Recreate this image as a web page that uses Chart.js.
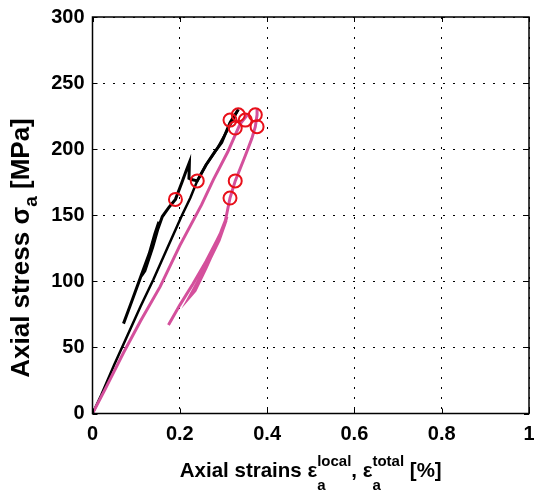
<!DOCTYPE html>
<html>
<head>
<meta charset="utf-8">
<script src="https://cdn.jsdelivr.net/npm/chart.js@4"></script>
<style>
  html, body { margin: 0; padding: 0; background: #fff; }
  #wrap { width: 534px; height: 493px; }
</style>
</head>
<body>
<div id="wrap"><canvas id="chartCanvas"></canvas></div>
<script>
// axis ticks
const xTicks = [0, 0.2, 0.4, 0.6, 0.8, 1];
const yTicks = [0, 50, 100, 150, 200, 250, 300];

// local strain, first loading from origin
const localLoadX = [0, 0.02, 0.05, 0.08, 0.11, 0.139, 0.17, 0.205, 0.224, 0.24, 0.26, 0.285, 0.31, 0.334];
const localLoadY = [0, 14, 37, 59, 81, 101, 124, 150, 163, 176, 188, 200, 215, 230];

// local strain, reloading branch (loop, then the drop)
const localReloadX = [0.071, 0.09, 0.11, 0.13, 0.143, 0.152, 0.145, 0.13, 0.112, 0.12, 0.138, 0.151, 0.147, 0.16, 0.175, 0.19, 0.205, 0.215, 0.222, 0.221, 0.227, 0.24, 0.26, 0.28, 0.296, 0.315, 0.334];
const localReloadY = [68, 85, 103, 121, 136, 145, 136, 118, 104, 108, 126, 141, 137, 149, 156, 162, 175, 184, 190, 178, 177, 176, 188, 198, 205, 220, 230];

// total strain, first loading from origin
const totalLoadX = [0, 0.03, 0.071, 0.11, 0.155, 0.2, 0.25, 0.277, 0.31, 0.338, 0.355];
const totalLoadY = [0, 19, 46, 70, 96, 127, 158, 177, 198, 219, 226];

// total strain, reloading branch (loop, then on to the top)
const totalReloadX = [0.174, 0.2, 0.23, 0.26, 0.285, 0.3, 0.306, 0.29, 0.265, 0.24, 0.222, 0.235, 0.26, 0.283, 0.296, 0.308, 0.302, 0.315, 0.327, 0.35, 0.365, 0.373, 0.377, 0.377];
const totalReloadY = [67, 82, 98, 115, 131, 141, 146, 131, 114, 99, 88, 93, 110, 127, 139, 149, 142, 163, 176, 195, 208, 217, 226, 231];

// marked points (red circles)
const markX = [0.19, 0.24, 0.315, 0.327, 0.315, 0.334, 0.327, 0.35, 0.373, 0.377];
const markY = [162, 176, 163, 176, 222, 226, 216, 222, 226, 217];

function pts(xs, ys) {
    return xs.map((x, i) => ({ x: x, y: ys[i] }));
}

const FONT = "'Liberation Sans', Arial, sans-serif";
const BLACK = '#000000';
const PINK = '#d4509c';
const RED = '#e8101a';

// frame, inner ticks and axis titles with sub/superscripts
const framePlugin = {
    id: 'frame',
    afterDraw(chart) {
        const ctx = chart.ctx;
        const a = chart.chartArea;
        const xs = chart.scales.x, ys = chart.scales.y;
        ctx.save();
        ctx.strokeStyle = '#000';
        ctx.lineWidth = 1.5;
        ctx.setLineDash([]);
        ctx.strokeRect(a.left, a.top, a.right - a.left, a.bottom - a.top);
        ctx.lineWidth = 1;
        ctx.beginPath();
        xTicks.forEach(v => {
            const px = Math.round(xs.getPixelForValue(v)) + 0.5;
            ctx.moveTo(px, a.bottom); ctx.lineTo(px, a.bottom - 5);
            ctx.moveTo(px, a.top); ctx.lineTo(px, a.top + 5);
        });
        yTicks.forEach(v => {
            const py = Math.round(ys.getPixelForValue(v)) + 0.5;
            ctx.moveTo(a.left, py); ctx.lineTo(a.left + 5, py);
            ctx.moveTo(a.right, py); ctx.lineTo(a.right - 5, py);
        });
        ctx.stroke();

        function widthOf(p) {
            ctx.font = p.f;
            let w = ctx.measureText(p.t).width;
            if (p.sup) w = Math.max(w, ctx.measureText(p.sup).width);
            return w;
        }
        ctx.fillStyle = '#000';
        ctx.textBaseline = 'alphabetic';
        ctx.textAlign = 'left';

        // x title
        const big = 'bold 20.5px ' + FONT;
        const small = 'bold 15px ' + FONT;
        const parts = [
            { t: 'Axial strains \u03b5', f: big, dy: 0 },
            { t: 'a', f: small, dy: 13, sup: 'local' },
            { t: ', \u03b5', f: big, dy: 0 },
            { t: 'a', f: small, dy: 13, sup: 'total' },
            { t: ' [%]', f: big, dy: 0 }
        ];
        let total = parts.reduce((s, p) => s + widthOf(p), 0);
        let x0 = (a.left + a.right) / 2 - total / 2;
        const base = 477;
        parts.forEach(p => {
            ctx.font = p.f;
            ctx.fillText(p.t, x0, base + p.dy);
            if (p.sup) ctx.fillText(p.sup, x0, base - 11);
            x0 += widthOf(p);
        });

        // y title
        const ybig = 'bold 26px ' + FONT;
        const ysmall = 'bold 19px ' + FONT;
        ctx.save();
        ctx.translate(29, 0);
        ctx.rotate(-Math.PI / 2);
        const yparts = [
            { t: 'Axial stress \u03c3', f: ybig, dy: 0 },
            { t: 'a', f: ysmall, dy: 8 },
            { t: ' [MPa]', f: ybig, dy: 0 }
        ];
        total = yparts.reduce((s, p) => s + widthOf(p), 0);
        let cx = -248 - total / 2;
        yparts.forEach(p => {
            ctx.font = p.f;
            ctx.fillText(p.t, cx, p.dy);
            cx += widthOf(p);
        });
        ctx.restore();
        ctx.restore();
    }
};

function lineSet(data, color, width, order) {
    return {
        data: data,
        showLine: true,
        borderColor: color,
        borderWidth: width,
        pointRadius: 0,
        tension: 0,
        fill: false,
        order: order
    };
}

function noPad(s) {
    s.paddingLeft = 0; s.paddingRight = 0; s.paddingTop = 0; s.paddingBottom = 0;
}

const canvas = document.getElementById('chartCanvas');
new Chart(canvas.getContext('2d'), {
    type: 'scatter',
    data: {
        datasets: [
            {
                data: pts(markX, markY),
                pointRadius: 6.5,
                pointBorderWidth: 2,
                pointBorderColor: RED,
                pointBackgroundColor: 'rgba(0,0,0,0)',
                showLine: false,
                order: 0
            },
            lineSet(pts(totalReloadX, totalReloadY), PINK, 3, 1),
            lineSet(pts(totalLoadX, totalLoadY), PINK, 3, 1),
            lineSet(pts(localReloadX, localReloadY), BLACK, 3, 2),
            lineSet(pts(localLoadX, localLoadY), BLACK, 2.5, 2)
        ]
    },
    options: {
        responsive: true,
        maintainAspectRatio: false,
        animation: false,
        layout: { autoPadding: false, padding: { top: 17, right: 5, left: 0, bottom: 0 } },
        plugins: { legend: { display: false }, tooltip: { enabled: false } },
        scales: {
            x: {
                type: 'linear',
                min: 0, max: 1,
                afterBuildTicks: s => { s.ticks = xTicks.map(v => ({ value: v })); },
                afterFit: s => { s.height = 79.5; noPad(s); },
                ticks: {
                    padding: 9,
                    color: '#000',
                    font: { family: FONT, size: 20, weight: 'bold' },
                    callback: v => String(Number(v.toFixed(1)))
                },
                grid: { color: '#000', lineWidth: 1, drawTicks: false },
                border: { display: false, dash: [2, 8] }
            },
            y: {
                type: 'linear',
                min: 0, max: 300,
                afterBuildTicks: s => { s.ticks = yTicks.map(v => ({ value: v })); },
                afterFit: s => { s.width = 92.5; noPad(s); },
                ticks: {
                    padding: 8,
                    color: '#000',
                    font: { family: FONT, size: 20, weight: 'bold' }
                },
                grid: { color: '#000', lineWidth: 1, drawTicks: false },
                border: { display: false, dash: [2, 8] }
            }
        }
    },
    plugins: [framePlugin]
});
</script>
</body>
</html>
